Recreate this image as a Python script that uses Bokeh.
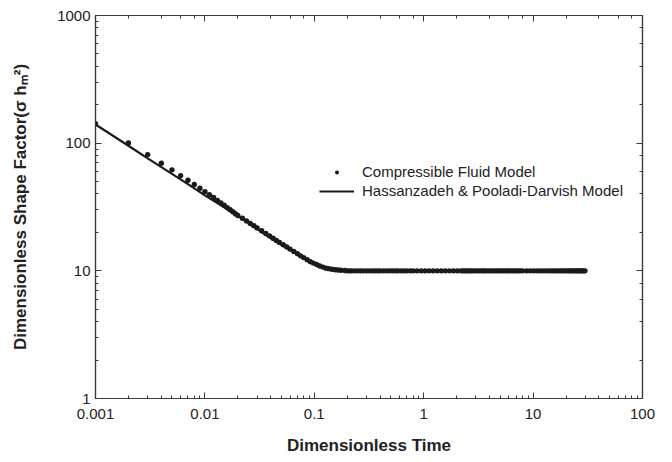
from bokeh.plotting import figure
from bokeh.models import (ColumnDataSource, Range1d, LogAxis, LogTicker,
                          CustomJSTickFormatter, Legend, LegendItem)
from bokeh.embed import file_html
from bokeh.resources import INLINE

# ---- data ----
# Compressible Fluid Model (dots), early-time branch
cf_t_early = [0.001, 0.002, 0.003, 0.004, 0.005, 0.006, 0.007, 0.008, 0.009, 0.010,
              0.011, 0.012, 0.013, 0.014, 0.015, 0.016, 0.017, 0.018, 0.019, 0.020]
cf_v_early = [142.0, 100.5, 81.4, 69.6, 61.8, 55.7, 51.2, 47.4, 44.3, 41.6,
              39.4, 37.5, 35.6, 34.0, 32.6, 31.3, 30.1, 29.0, 28.0, 27.1]
# transition branch
cf_t_mid = [0.022, 0.024, 0.026, 0.028, 0.030, 0.033, 0.036, 0.039, 0.042, 0.045,
            0.048, 0.052, 0.056, 0.060, 0.065, 0.070, 0.075, 0.080, 0.086, 0.092,
            0.098, 0.105, 0.112, 0.120, 0.128, 0.136, 0.145, 0.155, 0.165, 0.175, 0.19]
cf_v_mid = [25.8, 24.6, 23.5, 22.6, 21.7, 20.6, 19.6, 18.8, 18.0, 17.3,
            16.7, 16.0, 15.4, 14.8, 14.2, 13.6, 13.1, 12.7, 12.2, 11.8,
            11.5, 11.2, 10.9, 10.7, 10.5, 10.4, 10.3, 10.2, 10.15, 10.1, 10.05]
# late-time plateau
cf_t_plateau = [0.20, 0.21, 0.22, 0.235, 0.25, 0.265, 0.28, 0.30, 0.32, 0.34, 0.36, 0.38,
                0.40, 0.43, 0.46, 0.49, 0.52, 0.55, 0.58, 0.62, 0.66, 0.70, 0.75, 0.80,
                0.87, 0.95, 1.03, 1.12, 1.22, 1.33, 1.45, 1.58, 1.72, 1.87, 2.03, 2.2,
                2.3, 2.4, 2.5, 2.6, 2.7, 2.8, 2.95, 3.1, 3.25, 3.4, 3.55, 3.7, 3.9, 4.1,
                4.3, 4.5, 4.7, 4.9, 5.1, 5.35, 5.6, 5.85, 6.1, 6.4, 6.7, 7.0, 7.3, 7.6,
                8.0, 8.7, 9.4, 10.1, 10.8, 11.5, 12.2, 13.0, 13.8, 14.6, 15.4, 16.2, 17.0,
                17.8, 18.6, 19.4, 20.2, 21.0, 21.8, 22.6, 23.4, 24.2, 25.0, 25.8, 26.6,
                27.4, 28.2, 29.0, 29.8]
cf_plateau_level = 10.0

# Hassanzadeh & Pooladi-Darvish Model (line)
hp_t = [0.001, 0.002, 0.003, 0.005, 0.007, 0.01, 0.015, 0.02, 0.03, 0.04, 0.05,
        0.065, 0.08, 0.1, 0.13, 0.17, 0.25, 0.5]
hp_v = [140.0, 95.5, 76.0, 57.5, 47.8, 39.0, 31.5, 27.0, 21.3, 18.0, 16.0,
        14.0, 12.6, 11.3, 10.5, 10.15, 10.0, 10.0]

x_label = "Dimensionless Time"
y_label = "Dimensionless Shape Factor(σ hₘ²)"
series_names = ["Compressible Fluid Model", "Hassanzadeh & Pooladi-Darvish Model"]

cf_t = cf_t_early + cf_t_mid + cf_t_plateau
cf_v = cf_v_early + cf_v_mid + [cf_plateau_level] * len(cf_t_plateau)

FONT = "Liberation Sans"
INK = "#1a1a1a"
AX = "#3a3a3a"

p = figure(width=672, height=462, x_axis_type="log", y_axis_type="log",
           x_range=Range1d(0.001, 100), y_range=Range1d(1, 1000),
           output_backend="svg", toolbar_location=None,
           min_border_left=95, min_border_right=30, min_border_top=15, min_border_bottom=64)
p.background_fill_color = "white"
p.border_fill_color = "white"
p.xgrid.visible = False
p.ygrid.visible = False
p.outline_line_color = AX
p.outline_line_width = 1.2

line_src = ColumnDataSource(dict(t=hp_t, v=hp_v))
dot_src = ColumnDataSource(dict(t=cf_t, v=cf_v))

r_line = p.line("t", "v", source=line_src, line_color=INK, line_width=2.2)
r_dots = p.scatter("t", "v", source=dot_src, size=5.4, marker="circle",
                   fill_color=INK, line_color=INK, line_width=0)

fmt = CustomJSTickFormatter(code="return tick.toString();")
blank = CustomJSTickFormatter(code="return '';")


def style_axis(ax, show_labels):
    ax.axis_line_color = AX
    ax.axis_line_width = 1.2
    ax.major_tick_line_color = AX
    ax.minor_tick_line_color = AX
    ax.major_tick_in = 6
    ax.major_tick_out = 0
    ax.minor_tick_in = 3
    ax.minor_tick_out = 0
    ax.major_label_text_font = FONT
    ax.major_label_text_font_size = "15px"
    ax.major_label_text_color = "#222222"
    ax.formatter = fmt if show_labels else blank


xa = p.xaxis[0]
ya = p.yaxis[0]
style_axis(xa, True)
style_axis(ya, True)
xa.major_label_standoff = 10
ya.major_label_standoff = 5
xa.axis_label = x_label
ya.axis_label = y_label
for ax in (xa, ya):
    ax.axis_label_text_font = FONT
    ax.axis_label_text_font_style = "bold"
    ax.axis_label_text_font_size = "17px"
    ax.axis_label_text_color = "#222222"
xa.axis_label_standoff = 14
ya.axis_label_standoff = 24

top = LogAxis(ticker=LogTicker())
right = LogAxis(ticker=LogTicker())
style_axis(top, False)
style_axis(right, False)
top.major_label_standoff = 0
right.major_label_standoff = 0
p.add_layout(top, "above")
p.add_layout(right, "right")

legend = Legend(items=[LegendItem(label=series_names[0], renderers=[r_dots]),
                       LegendItem(label=series_names[1], renderers=[r_line])],
                location=(224, 198), margin=0, padding=0, spacing=0,
                glyph_width=35, glyph_height=10, label_height=19, label_standoff=8,
                label_text_font=FONT, label_text_font_size="15px",
                label_text_color="#222222",
                border_line_alpha=0, background_fill_alpha=0)
p.add_layout(legend)

open("out.html", "w").write(file_html(p, INLINE))
